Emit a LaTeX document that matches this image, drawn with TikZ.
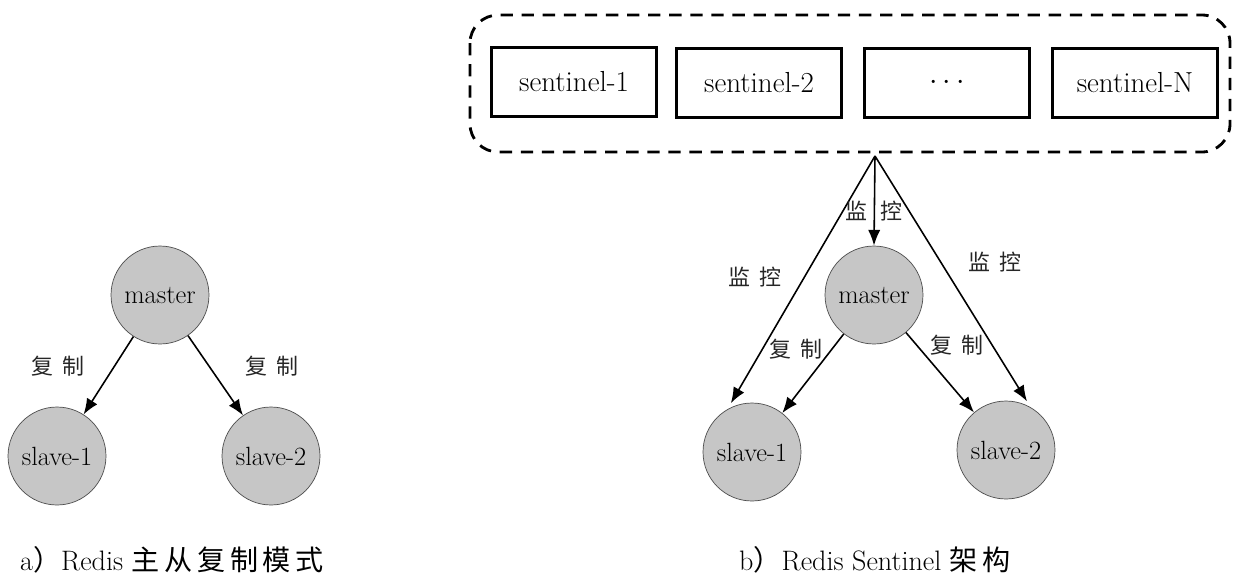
\documentclass[tikz,border=0pt]{standalone}
\usepackage{fontspec}
\newfontfamily\cjk{Noto Sans CJK SC}
\usetikzlibrary{positioning,arrows.meta}
\tikzset{
  redis/.style={circle, draw=gray!60!black, fill=gray!45, minimum size=1.96cm, inner sep=0pt, font=\fontsize{15}{17}\selectfont},
  sentinel/.style={draw, line width=1.5pt, minimum width=3.3cm, minimum height=1.38cm, font=\fontsize{16.5}{18}\selectfont},
  group/.style={line width=1.6pt, dash pattern=on 7pt off 5pt, rounded corners=16pt},
  link/.style={-{Latex[length=9pt,width=7pt]}, line width=0.9pt},
  tag/.style={font=\cjk\fontsize{12.5}{14}\selectfont, text=black!85},
  caption/.style={font=\fontsize{16}{18}\selectfont}
}

\begin{document}
\begin{tikzpicture}[x=0.02cm, y=-0.02cm]
\useasboundingbox (0,0) rectangle (1242,579);

% a) master / slave replication
\node[redis] (ma) at (160,295) {master};
\node[redis] (sa1) at (57,456) {slave-1};
\node[redis] (sa2) at (271,456) {slave-2};
\draw[link] (ma) -- (sa1);
\draw[link] (ma) -- (sa2);
\node[tag] (ra1) at (58,366) {复\hspace{0.45em}制};
\node[tag] (ra2) at (272,366) {复\hspace{0.45em}制};
\node[caption] (capa) at (172,560) {a{\cjk ）}Redis {\cjk 主\,从\,复\,制\,模\,式}};

% b) sentinel group
\draw[group] (470,15) rectangle (1230,152);
\node[sentinel] (sen1) at (574,82) {sentinel-1};
\node[sentinel] (sen2) at (759,83) {sentinel-2};
\node[sentinel] (sendots) at (947,83) {$\cdots$};
\node[sentinel] (senN) at (1135,83) {sentinel-N};
\coordinate (apex) at (875,156);

% b) master / slaves watched by the sentinels
\node[redis] (mb) at (874,295) {master};
\node[redis] (sb1) at (752,452) {slave-1};
\node[redis] (sb2) at (1006,450) {slave-2};
\draw[link] (apex) -- (mb.north);
\draw[link, shorten >=4pt] (apex) -- (sb1.120);
\draw[link, shorten >=4pt] (apex) -- (sb2.60);
\draw[link] (mb) -- (sb1);
\draw[link] (mb) -- (sb2);
\node[tag] (wm) at (874,211) {监\hspace{0.6em}控};
\node[tag] (w1) at (755,277) {监\hspace{0.45em}控};
\node[tag] (w2) at (995,262) {监\hspace{0.45em}控};
\node[tag] (rb1) at (796,349) {复\hspace{0.45em}制};
\node[tag] (rb2) at (957,345) {复\hspace{0.45em}制};
\node[caption] (capb) at (875,560) {b{\cjk ）}Redis Sentinel {\cjk 架\,构}};
\end{tikzpicture}
\end{document}
